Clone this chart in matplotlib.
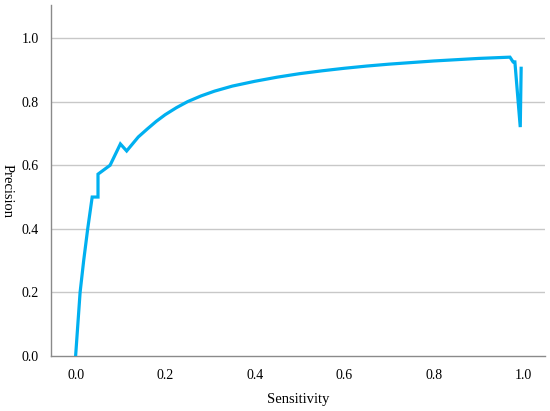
import matplotlib
matplotlib.use('Agg')
from matplotlib import pyplot as plt

plt.rcParams['font.family'] = ['Liberation Serif', 'DejaVu Serif']

# precision-recall curve
sensitivity = [0.0, 0.005, 0.01, 0.018, 0.027, 0.033, 0.037, 0.05, 0.05, 0.077,
               0.10, 0.114, 0.14, 0.16, 0.18, 0.20, 0.225, 0.25, 0.28, 0.31,
               0.35, 0.40, 0.45, 0.50, 0.55, 0.60, 0.65, 0.70, 0.75, 0.80,
               0.85, 0.90, 0.97, 0.977, 0.981, 0.993, 0.995]
precision = [0.0, 0.1, 0.2, 0.3, 0.4, 0.46, 0.5, 0.5, 0.572, 0.6,
             0.667, 0.645, 0.689, 0.714, 0.738, 0.759, 0.781, 0.800, 0.818, 0.833,
             0.849, 0.864, 0.877, 0.888, 0.897, 0.905, 0.912, 0.918, 0.923, 0.928,
             0.932, 0.936, 0.94, 0.925, 0.925, 0.72, 0.905]

x_ticks = [0.0, 0.2, 0.4, 0.6, 0.8, 1.0]
y_ticks = [0.0, 0.2, 0.4, 0.6, 0.8, 1.0]

fig = plt.figure(figsize=(5.5, 4.11), dpi=100)
ax = fig.add_axes([0.0927, 0.1338, 0.898, 0.854])

# horizontal grid lines only
for y in y_ticks[1:]:
    ax.axhline(y, color='#c8c8c8', linewidth=1.0, zorder=1)

ax.plot(sensitivity, precision, color='#00b0f0', linewidth=2.3,
        solid_joinstyle='miter', zorder=3)

ax.set_xlim(-0.055, 1.048)
ax.set_ylim(0, 1.104)
ax.set_xticks(x_ticks)
ax.set_yticks(y_ticks)
ax.set_xticklabels(['%.1f' % v for v in x_ticks])
ax.set_yticklabels(['%.1f' % v for v in y_ticks])
ax.tick_params(length=0, labelsize=10, pad=9)

for side in ['top', 'right']:
    ax.spines[side].set_visible(False)
for side in ['left', 'bottom']:
    ax.spines[side].set_color('#8a8a8a')
    ax.spines[side].set_linewidth(1.0)

ax.set_xlabel('Sensitivity', fontsize=10.5, labelpad=8)
ax.set_ylabel('Precision', fontsize=10.5, rotation=270, va='center', ha='center')
ax.yaxis.set_label_coords(-0.089, 0.47)

fig.savefig('out.png', dpi=100)
